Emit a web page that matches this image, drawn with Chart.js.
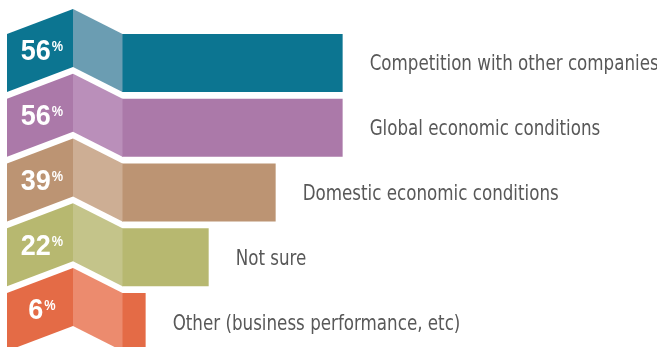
<!DOCTYPE html>
<html>
<head>
<meta charset="utf-8">
<script src="https://cdn.jsdelivr.net/npm/chart.js@4.4.1/dist/chart.umd.min.js"></script>
<style>
  html, body { margin: 0; padding: 0; background: #fff; overflow: hidden; }
  #wrap { position: relative; width: 657px; height: 360px; }
</style>
</head>
<body>
<div id="wrap"><canvas id="chart"></canvas></div>
<script>
// dados
const categories = [
  'Competition with other companies',
  'Global economic conditions',
  'Domestic economic conditions',
  'Not sure',
  'Other (business performance, etc)'
];
const values = [56, 56, 39, 22, 6];
const valueLabels = ['56', '56', '39', '22', '6'];

// cores: barra / painel frontal, painel lateral (mais claro)
const barColors = ['#0c7591', '#ab79a9', '#bc9473', '#b7b870', '#e46b46'];
const sideColors = ['#6b9db2', '#ba8fba', '#cdae94', '#c4c48a', '#ec8b6e'];

// texto comprimido na horizontal (fonte condensada)
function drawNarrow(ctx, text, x, y, sx) {
  ctx.save();
  ctx.translate(x, y);
  ctx.scale(sx, 1);
  ctx.fillText(text, 0, 0);
  ctx.restore();
}

// desenha a "fita dobrada" à esquerda de cada barra e os textos
const ribbonPlugin = {
  id: 'ribbon',
  afterDatasetsDraw(chart) {
    const ctx = chart.ctx;
    const meta = chart.getDatasetMeta(0);
    meta.data.forEach((bar, i) => {
      const p = bar.getProps(['x', 'y', 'base', 'height'], true);
      const top = p.y - p.height / 2;
      const h = p.height;
      const base = p.base;
      const rise = 25;
      const peakX = base - 49;
      const leftX = 7;

      ctx.save();
      // painel lateral
      ctx.fillStyle = sideColors[i];
      ctx.beginPath();
      ctx.moveTo(base + 0.5, top);
      ctx.lineTo(base + 0.5, top + h);
      ctx.lineTo(peakX, top + h - rise);
      ctx.lineTo(peakX, top - rise);
      ctx.closePath();
      ctx.fill();

      // painel frontal
      ctx.fillStyle = barColors[i];
      ctx.beginPath();
      ctx.moveTo(leftX, top);
      ctx.lineTo(peakX, top - rise);
      ctx.lineTo(peakX, top + h - rise);
      ctx.lineTo(leftX, top + h);
      ctx.closePath();
      ctx.fill();

      // percentual
      const cx = 42;
      const cy = top + h / 2 - rise * (cx - leftX) / (peakX - leftX);
      const numFont = 'bold 30px "Liberation Sans", Arial, sans-serif';
      const pctFont = 'bold 15px "Liberation Sans", Arial, sans-serif';
      const sx = 0.9;
      ctx.font = numFont;
      const nw = ctx.measureText(valueLabels[i]).width * sx;
      ctx.font = pctFont;
      const pw = ctx.measureText('%').width * 0.85;
      const x0 = cx - (nw + pw + 1) / 2;
      ctx.fillStyle = '#ffffff';
      ctx.textBaseline = 'alphabetic';
      ctx.textAlign = 'left';
      ctx.font = numFont;
      drawNarrow(ctx, valueLabels[i], x0, cy + 10.5, sx);
      ctx.font = pctFont;
      drawNarrow(ctx, '%', x0 + nw + 1, cy + 1.5, 0.85);

      // rótulo da categoria
      ctx.font = '21px "DejaVu Sans Condensed", "Liberation Sans", sans-serif';
      ctx.fillStyle = '#585858';
      drawNarrow(ctx, categories[i], p.x + 27, p.y + 7.5, 0.885);
      ctx.restore();
    });
  }
};

new Chart(document.getElementById('chart'), {
  type: 'bar',
  data: {
    labels: categories,
    datasets: [{
      data: values,
      backgroundColor: barColors,
      borderWidth: 0,
      barPercentage: 1,
      categoryPercentage: 0.896
    }]
  },
  options: {
    indexAxis: 'y',
    responsive: true,
    maintainAspectRatio: false,
    animation: false,
    layout: { padding: { left: 122, right: 141, top: 30.6, bottom: 5.6 } },
    scales: {
      x: { display: false, min: 0, max: 100 },
      y: { display: false }
    },
    plugins: {
      legend: { display: false },
      tooltip: { enabled: false }
    }
  },
  plugins: [ribbonPlugin]
});
</script>
</body>
</html>
